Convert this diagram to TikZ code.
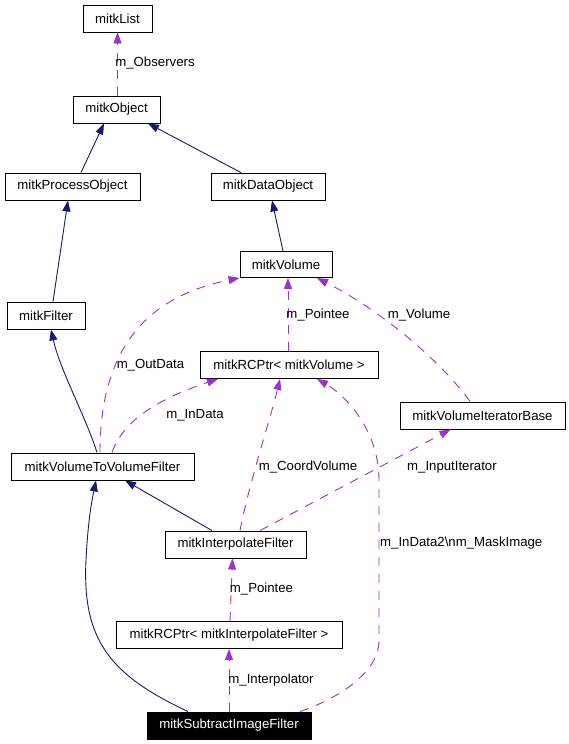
\documentclass[tikz,border=0pt]{standalone}
\usepackage{fontspec}
\setmainfont{Liberation Sans}
\usetikzlibrary{arrows.meta}
\definecolor{navy}{HTML}{191970}
\definecolor{purp}{HTML}{9A32CD}
\newcommand\dfont{\fontsize{13.2}{15}\selectfont}
\begin{document}
\begin{tikzpicture}[x=1pt,y=-1pt,
  box/.style={draw=black, line width=0.9pt, inner sep=0pt, minimum height=27pt, font=\dfont},
  inh/.style={draw=navy, line width=0.9pt, -{Triangle[length=11pt,width=8pt,fill=navy]}},
  dep/.style={draw=purp, line width=0.9pt, dash pattern=on 9pt off 8pt, -{Triangle[length=11pt,width=8pt,fill=purp]}},
  lab/.style={font=\dfont, inner sep=0pt}]
\useasboundingbox (0,0) rectangle (569,744);
\fill[white] (0,0) rectangle (569,744);

% nodes
\node[box, minimum width=69pt]  (list)   at (117.5,18.5) {mitkList};
\node[box, minimum width=87pt]  (obj)    at (116.5,109.5) {mitkObject};
\node[box, minimum width=135pt] (proc)   at (72.5,186.5) {mitkProcessObject};
\node[box, minimum width=114pt] (data)   at (268,186.5) {mitkDataObject};
\node[box, minimum width=92pt, minimum height=26pt]  (vol) at (286,264.5) {mitkVolume};
\node[box, minimum width=78pt]  (filter) at (46,315.5) {mitkFilter};
\node[box, minimum width=178pt] (rcv)    at (289,365) {mitkRCPtr< mitkVolume >};
\node[box, minimum width=165pt] (vib)    at (482.5,415.5) {mitkVolumeIteratorBase};
\node[box, minimum width=183pt] (vtv)    at (102.5,466.5) {mitkVolumeToVolumeFilter};
\node[box, minimum width=141pt] (interp) at (235.5,544.5) {mitkInterpolateFilter};
\node[box, minimum width=226pt] (rci)    at (229,635) {mitkRCPtr< mitkInterpolateFilter >};
\node[box, minimum width=164pt, fill=black, text=white] (sub) at (229,725.5) {mitkSubtractImageFilter};

% inheritance
\draw[inh] ([xshift=8.5]proc.north) -- ([xshift=-12.5]obj.south);
\draw[inh] ([xshift=-27]data.north) -- ([xshift=31.5]obj.south);
\draw[inh] ([xshift=-3]vol.north) -- ([xshift=4]data.south);
\draw[inh] ([xshift=7]filter.north) -- ([xshift=-4.5]proc.south);
\draw[inh] ([xshift=-5.5]vtv.north) .. controls (85,415) and (60,370) .. ([xshift=5]filter.south);
\draw[inh] ([xshift=-23.5]interp.north) -- ([xshift=22.5]vtv.south);
\draw[inh] ([xshift=-41]sub.north) .. controls (110,675) and (82,640) .. (86,560)
           .. controls (88,520) and (92,500) .. ([xshift=-6.5]vtv.south);

% usage
\draw[dep] ([xshift=1]obj.north) -- (list.south);
\node[lab] (lObs) at (155,63) {m\_Observers};

\draw[dep] ([xshift=-2.5]vtv.north) .. controls (100,345) and (150,296) .. (vol.south west);
\node[lab] (lOut) at (150.5,365) {m\_OutData};

\draw[dep] ([xshift=9.5]vtv.north) .. controls (125,415) and (170,395) .. ([xshift=-71]rcv.south);
\node[lab] (lIn) at (195,415.5) {m\_InData};

\draw[dep] ([xshift=-1]rcv.north) -- ([xshift=2]vol.south);
\node[lab] (lPt1) at (318,315) {m\_Pointee};

\draw[dep] ([xshift=-12.5]vib.north) .. controls (440,360) and (380,310) .. ([xshift=31]vol.south);
\node[lab] (lVol) at (419,315) {m\_Volume};

\draw[dep] ([xshift=4.5]interp.north) .. controls (250,480) and (270,420) .. ([xshift=-9]rcv.south);
\node[lab] (lCoord) at (308,467) {m\_CoordVolume};

\draw[dep] ([xshift=24.5]interp.north) -- ([xshift=-32]vib.south);
\node[lab, anchor=west] (lIt) at (407,467) {m\_InputIterator};

\draw[dep] ([xshift=71]sub.north) .. controls (320,705) and (379,680) .. (379,640)
           -- (379,480) .. controls (379,430) and (345,395) .. ([xshift=28]rcv.south);
\node[lab, anchor=west] (lMask) at (380,543) {m\_InData2\textbackslash nm\_MaskImage};

\draw[dep] ([xshift=1]rci.north) -- ([xshift=-3]interp.south);
\node[lab] (lPt2) at (261.5,589) {m\_Pointee};

\draw[dep] (sub.north) -- (rci.north |- rci.south);
\node[lab] (lInt) at (271,680) {m\_Interpolator};
\end{tikzpicture}
\end{document}
